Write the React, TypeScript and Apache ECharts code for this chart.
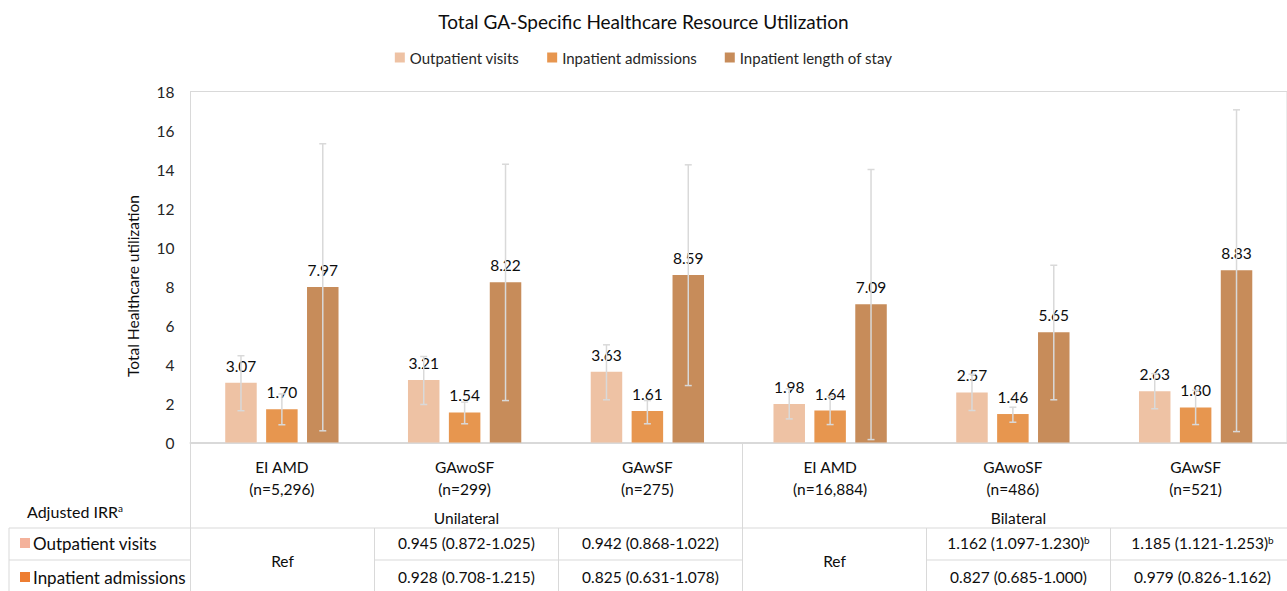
import React, { useEffect, useRef } from "react";
import * as echarts from "echarts";

// ---------- data ----------
const categories = ["EI AMD", "GAwoSF", "GAwSF", "EI AMD", "GAwoSF", "GAwSF"];
const groupSizes = ["(n=5,296)", "(n=299)", "(n=275)", "(n=16,884)", "(n=486)", "(n=521)"];
const seriesNames = ["Outpatient visits", "Inpatient admissions", "Inpatient length of stay"];

const outpatient = [3.07, 3.21, 3.63, 1.98, 2.57, 2.63];
const outpatientLow = [1.63, 1.95, 2.19, 1.21, 1.64, 1.73];
const outpatientHigh = [4.45, 4.41, 5.01, 2.75, 3.5, 3.53];

const admissions = [1.7, 1.54, 1.61, 1.64, 1.46, 1.8];
const admissionsLow = [0.91, 0.96, 0.96, 0.92, 1.04, 0.92];
const admissionsHigh = [2.49, 2.07, 2.15, 2.36, 1.81, 2.68];

const lengthOfStay = [7.97, 8.22, 8.59, 7.09, 5.65, 8.83];
const lengthOfStayLow = [0.6, 2.15, 2.92, 0.15, 2.19, 0.56];
const lengthOfStayHigh = [15.32, 14.27, 14.24, 14.0, 9.09, 17.06];

const yMin = 0;
const yMax = 18;
const yInterval = 2;

const lateralityGroups = ["Unilateral", "Bilateral"];
const irrRowLabels = ["Outpatient visits", "Inpatient admissions"];
const irrOutpatient = ["Ref", "0.945 (0.872-1.025)", "0.942 (0.868-1.022)", "Ref", "1.162 (1.097-1.230)", "1.185 (1.121-1.253)"];
const irrOutpatientSignificant = [false, false, false, false, true, true];
const irrAdmissions = ["Ref", "0.928 (0.708-1.215)", "0.825 (0.631-1.078)", "Ref", "0.827 (0.685-1.000)", "0.979 (0.826-1.162)"];

// ---------- style / layout ----------
const W = 1287;
const H = 591;
const FONT = "Lato";
const COLORS = ["#EEC2A4", "#E7964F", "#C78C5A"];
const TABLE_SWATCH = ["#F4B29B", "#ED7D31"];
const LINE = "#D9D9D9";
const TEXT = "#0D0D0D";
const GRID_LEFT = 190.5;
const GRID_TOP = 91.5;
const GRID_W = 1104;
const GRID_H = 351;
const BAR_W = 31.5;
const BAR_GAP_PX = 9.4;
const BAR_STEP = BAR_W + BAR_GAP_PX;

export default function App() {
  const ref = useRef<HTMLDivElement>(null);

  useEffect(() => {
    document.body.style.margin = "0";
    const chart = echarts.init(ref.current!, undefined, { renderer: "svg" });
    const catW = GRID_W / categories.length;
    const colX = (i: number) => GRID_LEFT + i * catW;
    const colC = (i: number) => GRID_LEFT + (i + 0.5) * catW;
    const axisY = GRID_TOP + GRID_H;
    const rowTop = 528;
    const rowMid = 560;
    const bottom = H;

    const lines: any[] = [];
    const addLine = (x1: number, y1: number, x2: number, y2: number) =>
      lines.push({
        type: "line",
        shape: { x1, y1, x2, y2 },
        style: { stroke: LINE, lineWidth: 1 },
        silent: true,
      });
    // table frame
    addLine(colX(0), axisY, colX(0), bottom);
    addLine(colX(3), axisY, colX(3), bottom);
    addLine(9, rowTop, W, rowTop);
    addLine(9, rowTop, 9, bottom);
    addLine(9, rowMid, colX(0), rowMid);
    addLine(colX(1), rowMid, colX(3), rowMid);
    addLine(colX(4), rowMid, W, rowMid);
    [1, 2, 4, 5].forEach((i) => addLine(colX(i), rowTop, colX(i), bottom));

    const texts: any[] = [];
    const addText = (x: number, y: number, text: string, opts: any = {}) =>
      texts.push({
        type: "text",
        x,
        y,
        silent: true,
        style: {
          text,
          fill: TEXT,
          fontSize: opts.size || 15.5,
          fontFamily: FONT,
          align: opts.align || "center",
          verticalAlign: "middle",
          rich: {
            sup: { fontSize: 10, fontFamily: FONT, fill: TEXT, verticalAlign: "top", padding: [0, 0, 6, 0] },
          },
        },
        rotation: opts.rotation || 0,
      });

    addText(colC(1), 518, lateralityGroups[0]);
    addText(colC(4), 518, lateralityGroups[1]);
    addText(27, 511, "Adjusted IRR{sup|a}", { align: "left", size: 16 });
    irrRowLabels.forEach((label, r) => {
      const y = r === 0 ? 543 : 577;
      texts.push({
        type: "rect",
        shape: { x: 20, y: y - 5, width: 10, height: 10 },
        style: { fill: TABLE_SWATCH[r] },
        silent: true,
      });
      addText(33, y, label, { align: "left", size: 17 });
    });
    [0, 3].forEach((i) => addText(colC(i), 561, irrOutpatient[i]));
    [1, 2, 4, 5].forEach((i) => {
      addText(colC(i), 543, irrOutpatient[i] + (irrOutpatientSignificant[i] ? "{sup|b}" : ""));
      addText(colC(i), 577, irrAdmissions[i]);
    });
    addText(133, 286, "Total Healthcare utilization", { rotation: Math.PI / 2, size: 15.5 });

    const barSeries = (idx: number, data: number[]) => ({
      type: "bar",
      name: seriesNames[idx],
      data,
      barWidth: BAR_W,
      barGap: `${(BAR_GAP_PX / BAR_W) * 100}%`,
      itemStyle: { color: COLORS[idx] },
      z: 2,
      label: {
        show: true,
        position: "top",
        distance: 9,
        color: TEXT,
        fontFamily: FONT,
        fontSize: 15.5,
        formatter: (p: any) => Number(p.value).toFixed(2),
      },
    });

    const errorSeries = (idx: number, low: number[], high: number[]) => ({
      type: "custom",
      data: low.map((l, i) => [i, l, high[i]]),
      encode: { x: 0, y: [1, 2] },
      z: 3,
      silent: true,
      renderItem: (_params: any, api: any) => {
        const cat = api.value(0);
        const lo = api.coord([cat, api.value(1)]);
        const hi = api.coord([cat, api.value(2)]);
        const x = lo[0] + (idx - 1) * BAR_STEP;
        const cap = 3.5;
        const st = { stroke: LINE, lineWidth: 1.5 };
        return {
          type: "group",
          children: [
            { type: "line", shape: { x1: x, y1: hi[1], x2: x, y2: lo[1] }, style: st },
            { type: "line", shape: { x1: x - cap, y1: hi[1], x2: x + cap, y2: hi[1] }, style: st },
            { type: "line", shape: { x1: x - cap, y1: lo[1], x2: x + cap, y2: lo[1] }, style: st },
          ],
        };
      },
    });

    chart.setOption({
      animation: false,
      textStyle: { fontFamily: FONT },
      title: {
        text: "Total GA-Specific Healthcare Resource Utilization",
        left: "center",
        top: 7,
        textStyle: { fontFamily: FONT, fontSize: 19, fontWeight: "normal", color: TEXT },
      },
      legend: {
        data: seriesNames,
        top: 45,
        left: "center",
        icon: "rect",
        itemWidth: 10,
        itemHeight: 10,
        itemGap: 28,
        textStyle: { fontFamily: FONT, fontSize: 15, color: "#262626" },
      },
      grid: {
        left: GRID_LEFT,
        top: GRID_TOP,
        width: GRID_W,
        height: GRID_H,
        show: true,
        borderColor: LINE,
        borderWidth: 1,
        containLabel: false,
      },
      xAxis: {
        type: "category",
        data: categories.map((c, i) => `${c}\n${groupSizes[i]}`),
        axisLine: { show: true, lineStyle: { color: LINE, width: 2 } },
        axisTick: { show: false },
        axisLabel: {
          margin: 13,
          color: TEXT,
          fontFamily: FONT,
          fontSize: 15.5,
          lineHeight: 22,
          interval: 0,
        },
      },
      yAxis: {
        type: "value",
        min: yMin,
        max: yMax,
        interval: yInterval,
        axisLine: { show: true, lineStyle: { color: LINE, width: 1 } },
        axisTick: { show: false },
        splitLine: { show: false },
        axisLabel: { margin: 16, color: "#262626", fontFamily: FONT, fontSize: 15.5 },
      },
      series: [
        barSeries(0, outpatient),
        barSeries(1, admissions),
        barSeries(2, lengthOfStay),
        errorSeries(0, outpatientLow, outpatientHigh),
        errorSeries(1, admissionsLow, admissionsHigh),
        errorSeries(2, lengthOfStayLow, lengthOfStayHigh),
      ],
      graphic: [...lines, ...texts],
    });
    return () => chart.dispose();
  }, []);

  return <div ref={ref} style={{ width: W, height: H }} />;
}
